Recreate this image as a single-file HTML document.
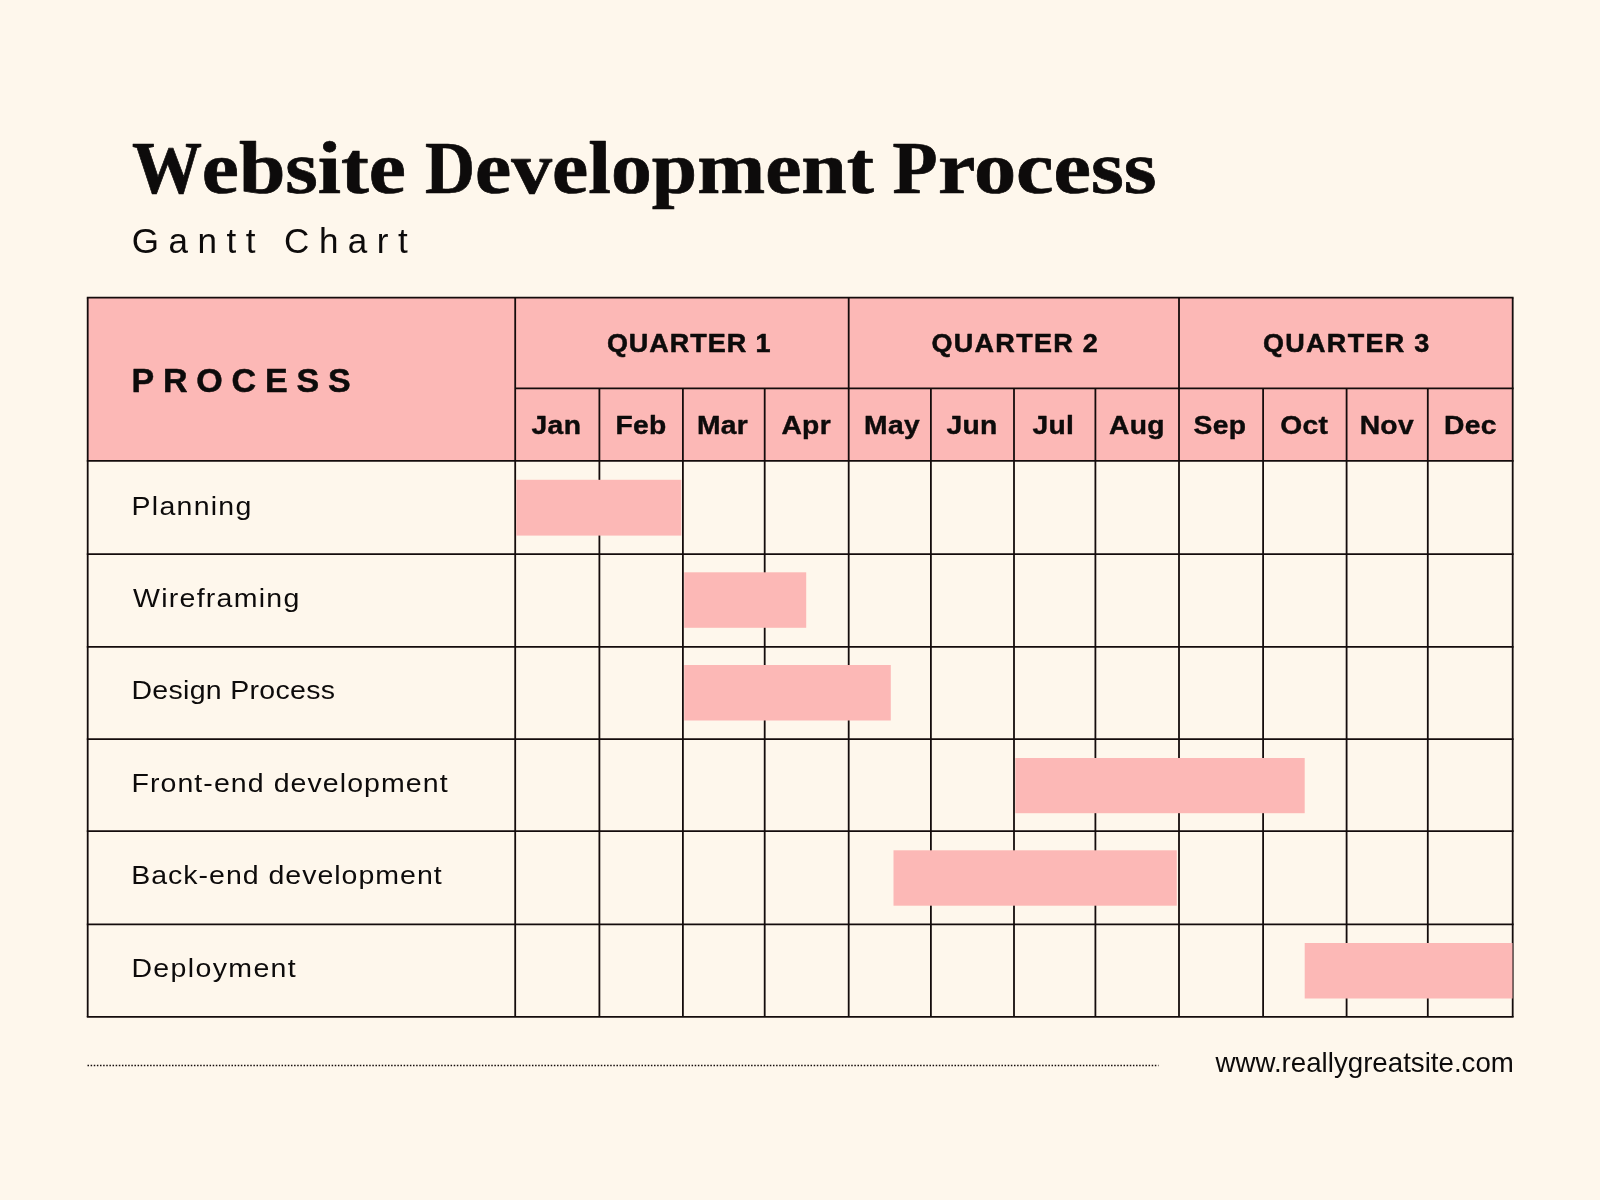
<!DOCTYPE html>
<html lang="en">
<head>
<meta charset="utf-8">
<title>Website Development Process - Gantt Chart</title>
<style>
html,body{margin:0;padding:0;}
html{background:#fef7ec;}
body{width:1600px;height:1200px;overflow:hidden;background:#fef7ec;font-family:'Liberation Sans', sans-serif;}
svg{position:absolute;left:0;top:0;display:block;will-change:transform;}
text{fill:#0d0b0b;}
</style>
</head>
<body>
<svg width="1600" height="1200" viewBox="0 0 1600 1200">
<rect x="0" y="0" width="1600" height="1200" fill="#fef7ec"/>
<rect x="87.70" y="297.70" width="1425.00" height="163.10" fill="#fcb8b6"/>
<g stroke="#140c0c" stroke-width="1.80" stroke-linecap="butt" fill="none">
<line x1="86.80" y1="297.70" x2="1513.60" y2="297.70"/>
<line x1="515.20" y1="388.40" x2="1513.60" y2="388.40"/>
<line x1="86.80" y1="460.80" x2="1513.60" y2="460.80"/>
<line x1="86.80" y1="554.05" x2="1513.60" y2="554.05"/>
<line x1="86.80" y1="646.80" x2="1513.60" y2="646.80"/>
<line x1="86.80" y1="739.05" x2="1513.60" y2="739.05"/>
<line x1="86.80" y1="831.20" x2="1513.60" y2="831.20"/>
<line x1="86.80" y1="924.40" x2="1513.60" y2="924.40"/>
<line x1="86.80" y1="1016.90" x2="1513.60" y2="1016.90"/>
<line x1="87.70" y1="297.70" x2="87.70" y2="1016.90"/>
<line x1="515.20" y1="297.70" x2="515.20" y2="1016.90"/>
<line x1="599.40" y1="388.40" x2="599.40" y2="1016.90"/>
<line x1="682.90" y1="388.40" x2="682.90" y2="1016.90"/>
<line x1="764.70" y1="388.40" x2="764.70" y2="1016.90"/>
<line x1="848.70" y1="297.70" x2="848.70" y2="1016.90"/>
<line x1="930.90" y1="388.40" x2="930.90" y2="1016.90"/>
<line x1="1014.00" y1="388.40" x2="1014.00" y2="1016.90"/>
<line x1="1095.40" y1="388.40" x2="1095.40" y2="1016.90"/>
<line x1="1179.00" y1="297.70" x2="1179.00" y2="1016.90"/>
<line x1="1263.10" y1="388.40" x2="1263.10" y2="1016.90"/>
<line x1="1346.60" y1="388.40" x2="1346.60" y2="1016.90"/>
<line x1="1427.80" y1="388.40" x2="1427.80" y2="1016.90"/>
<line x1="1512.70" y1="297.70" x2="1512.70" y2="1016.90"/>
</g>
<g fill="#fcb8b6">
<rect x="516.20" y="479.80" width="165.10" height="55.80"/>
<rect x="684.20" y="572.30" width="122.00" height="55.50"/>
<rect x="684.20" y="665.00" width="206.60" height="55.50"/>
<rect x="1015.30" y="758.00" width="289.40" height="55.20"/>
<rect x="893.50" y="850.30" width="283.30" height="55.40"/>
<rect x="1304.70" y="943.00" width="207.80" height="55.50"/>
</g>
<line x1="87.5" y1="1065.4" x2="1158.5" y2="1065.4" stroke="#140c0c" stroke-width="1.55" stroke-dasharray="1.5 1.63"/>
<text transform="translate(132.00 193.00) scale(0.9600 1)" id="t1a" font-family="'Liberation Serif', serif" font-size="73.00" font-weight="700" stroke="#0d0b0b" stroke-width="0.70" stroke-linejoin="round">W</text><text transform="translate(201.80 193.00) scale(1.1140 1)" id="t1b" font-family="'Liberation Serif', serif" font-size="75.00" font-weight="700" stroke="#0d0b0b" stroke-width="0.70" stroke-linejoin="round">ebsite</text>
<text transform="translate(425.00 193.00) scale(0.9500 1)" id="t2a" font-family="'Liberation Serif', serif" font-size="73.00" font-weight="700" stroke="#0d0b0b" stroke-width="0.70" stroke-linejoin="round">D</text><text transform="translate(475.10 193.00) scale(1.0880 1)" id="t2b" font-family="'Liberation Serif', serif" font-size="75.00" font-weight="700" stroke="#0d0b0b" stroke-width="0.70" stroke-linejoin="round">evelopment</text>
<text transform="translate(892.60 193.00) scale(1.0100 1)" id="t3a" font-family="'Liberation Serif', serif" font-size="73.00" font-weight="700" stroke="#0d0b0b" stroke-width="0.70" stroke-linejoin="round">P</text><text transform="translate(938.00 193.00) scale(1.1250 1)" id="t3b" font-family="'Liberation Serif', serif" font-size="75.00" font-weight="700" stroke="#0d0b0b" stroke-width="0.70" stroke-linejoin="round">rocess</text>
<text x="131.80" y="253.00" id="sub" font-family="'Liberation Sans', sans-serif" font-size="35.00" font-weight="400" letter-spacing="9.500">Gantt Chart</text>
<text x="131.50" y="392.40" id="proc" font-family="'Liberation Sans', sans-serif" font-size="34.00" font-weight="700" letter-spacing="8.800" stroke="#0d0b0b" stroke-width="0.50" stroke-linejoin="round">PROCESS</text>
<text transform="translate(689.20 352.30) scale(1.0800 1)" id="q0" font-family="'Liberation Sans', sans-serif" font-size="25.00" font-weight="700" letter-spacing="0.900" text-anchor="middle" stroke="#0d0b0b" stroke-width="0.50" stroke-linejoin="round">QUARTER 1</text>
<text transform="translate(1015.30 352.30) scale(1.0800 1)" id="q1" font-family="'Liberation Sans', sans-serif" font-size="25.00" font-weight="700" letter-spacing="1.200" text-anchor="middle" stroke="#0d0b0b" stroke-width="0.50" stroke-linejoin="round">QUARTER 2</text>
<text transform="translate(1346.80 352.30) scale(1.0800 1)" id="q2" font-family="'Liberation Sans', sans-serif" font-size="25.00" font-weight="700" letter-spacing="1.200" text-anchor="middle" stroke="#0d0b0b" stroke-width="0.50" stroke-linejoin="round">QUARTER 3</text>
<text transform="translate(556.40 433.80) scale(1.1300 1)" id="m0" font-family="'Liberation Sans', sans-serif" font-size="25.00" font-weight="700" letter-spacing="0.300" text-anchor="middle" stroke="#0d0b0b" stroke-width="0.40" stroke-linejoin="round">Jan</text>
<text transform="translate(641.00 433.80) scale(1.1300 1)" id="m1" font-family="'Liberation Sans', sans-serif" font-size="25.00" font-weight="700" letter-spacing="0.300" text-anchor="middle" stroke="#0d0b0b" stroke-width="0.40" stroke-linejoin="round">Feb</text>
<text transform="translate(722.50 433.80) scale(1.1300 1)" id="m2" font-family="'Liberation Sans', sans-serif" font-size="25.00" font-weight="700" letter-spacing="0.300" text-anchor="middle" stroke="#0d0b0b" stroke-width="0.40" stroke-linejoin="round">Mar</text>
<text transform="translate(806.20 433.80) scale(1.1300 1)" id="m3" font-family="'Liberation Sans', sans-serif" font-size="25.00" font-weight="700" letter-spacing="0.300" text-anchor="middle" stroke="#0d0b0b" stroke-width="0.40" stroke-linejoin="round">Apr</text>
<text transform="translate(892.00 433.80) scale(1.1300 1)" id="m4" font-family="'Liberation Sans', sans-serif" font-size="25.00" font-weight="700" letter-spacing="0.300" text-anchor="middle" stroke="#0d0b0b" stroke-width="0.40" stroke-linejoin="round">May</text>
<text transform="translate(972.00 433.80) scale(1.1300 1)" id="m5" font-family="'Liberation Sans', sans-serif" font-size="25.00" font-weight="700" letter-spacing="0.300" text-anchor="middle" stroke="#0d0b0b" stroke-width="0.40" stroke-linejoin="round">Jun</text>
<text transform="translate(1053.30 433.80) scale(1.1300 1)" id="m6" font-family="'Liberation Sans', sans-serif" font-size="25.00" font-weight="700" letter-spacing="0.300" text-anchor="middle" stroke="#0d0b0b" stroke-width="0.40" stroke-linejoin="round">Jul</text>
<text transform="translate(1137.00 433.80) scale(1.1300 1)" id="m7" font-family="'Liberation Sans', sans-serif" font-size="25.00" font-weight="700" letter-spacing="0.300" text-anchor="middle" stroke="#0d0b0b" stroke-width="0.40" stroke-linejoin="round">Aug</text>
<text transform="translate(1220.00 433.80) scale(1.1300 1)" id="m8" font-family="'Liberation Sans', sans-serif" font-size="25.00" font-weight="700" letter-spacing="0.300" text-anchor="middle" stroke="#0d0b0b" stroke-width="0.40" stroke-linejoin="round">Sep</text>
<text transform="translate(1304.30 433.80) scale(1.1300 1)" id="m9" font-family="'Liberation Sans', sans-serif" font-size="25.00" font-weight="700" letter-spacing="0.300" text-anchor="middle" stroke="#0d0b0b" stroke-width="0.40" stroke-linejoin="round">Oct</text>
<text transform="translate(1386.80 433.80) scale(1.1300 1)" id="m10" font-family="'Liberation Sans', sans-serif" font-size="25.00" font-weight="700" letter-spacing="0.300" text-anchor="middle" stroke="#0d0b0b" stroke-width="0.40" stroke-linejoin="round">Nov</text>
<text transform="translate(1470.50 433.80) scale(1.1300 1)" id="m11" font-family="'Liberation Sans', sans-serif" font-size="25.00" font-weight="700" letter-spacing="0.300" text-anchor="middle" stroke="#0d0b0b" stroke-width="0.40" stroke-linejoin="round">Dec</text>
<text transform="translate(131.60 514.60) scale(1.1400 1)" id="r0" font-family="'Liberation Sans', sans-serif" font-size="25.00" font-weight="400" letter-spacing="1.100">Planning</text>
<text transform="translate(133.00 607.00) scale(1.1400 1)" id="r1" font-family="'Liberation Sans', sans-serif" font-size="25.00" font-weight="400" letter-spacing="1.120">Wireframing</text>
<text transform="translate(131.40 699.00) scale(1.1400 1)" id="r2" font-family="'Liberation Sans', sans-serif" font-size="25.00" font-weight="400" letter-spacing="0.280">Design Process</text>
<text transform="translate(131.40 792.20) scale(1.1400 1)" id="r3" font-family="'Liberation Sans', sans-serif" font-size="25.00" font-weight="400" letter-spacing="0.950">Front-end development</text>
<text transform="translate(131.20 884.00) scale(1.1400 1)" id="r4" font-family="'Liberation Sans', sans-serif" font-size="25.00" font-weight="400" letter-spacing="0.880">Back-end development</text>
<text transform="translate(131.40 977.20) scale(1.1400 1)" id="r5" font-family="'Liberation Sans', sans-serif" font-size="25.00" font-weight="400" letter-spacing="1.200">Deployment</text>
<text transform="translate(1215.50 1072.00) scale(1.0330 1)" id="url" font-family="'Liberation Sans', sans-serif" font-size="26.80" font-weight="400">www.reallygreatsite.com</text>
</svg>
</body>
</html>
